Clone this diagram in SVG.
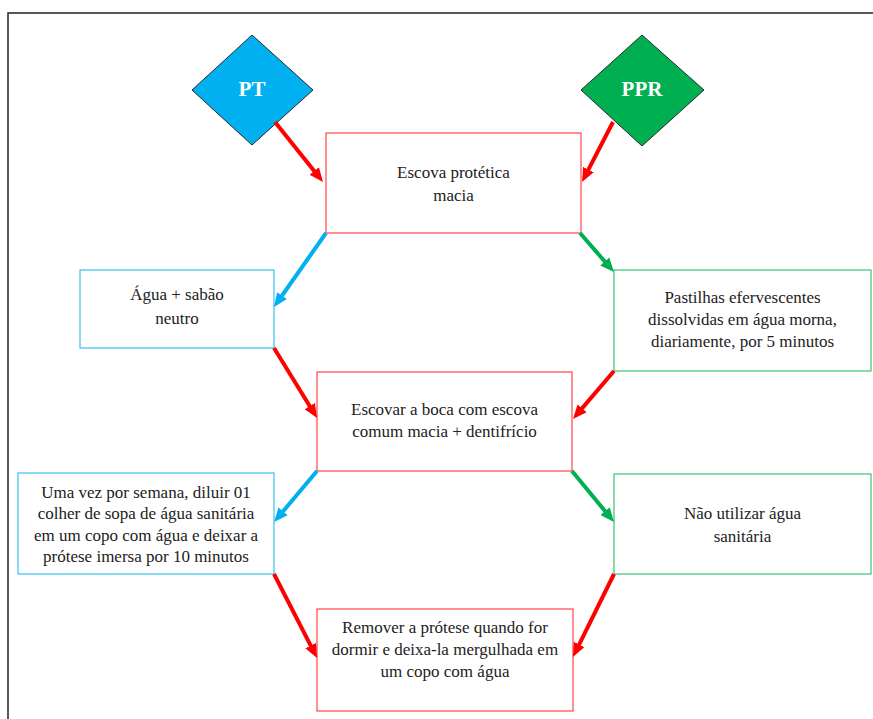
<svg xmlns="http://www.w3.org/2000/svg" width="873" height="719" viewBox="0 0 873 719">
<style>
.t{font-family:"Liberation Serif","Times New Roman",serif;font-size:17px;fill:#222;text-anchor:middle}
.d{font-family:"Liberation Serif","Times New Roman",serif;font-size:21px;font-weight:bold;fill:#fff;text-anchor:middle}
.dia{stroke:#2a2a2a;stroke-width:1}
.br{fill:#fff;stroke:#ff4545;stroke-width:1.2}
.bb{fill:#fff;stroke:#38c0f2;stroke-width:1.2}
.bg{fill:#fff;stroke:#3cc275;stroke-width:1.2}
.ar{fill:none;stroke-width:4}
.r{stroke:#ff0000;marker-end:url(#mr)}
.b{stroke:#00b0f0;marker-end:url(#mb)}
.g{stroke:#00b050;marker-end:url(#mg)}
</style>
<defs>
<marker id="mr" viewBox="0 0 14 14" markerWidth="14" markerHeight="14" markerUnits="userSpaceOnUse" refX="6" refY="7" orient="auto"><path d="M0,1 L14,7 L0,13 z" fill="#ff0000"/></marker>
<marker id="mb" viewBox="0 0 14 14" markerWidth="14" markerHeight="14" markerUnits="userSpaceOnUse" refX="6" refY="7" orient="auto"><path d="M0,1 L14,7 L0,13 z" fill="#00b0f0"/></marker>
<marker id="mg" viewBox="0 0 14 14" markerWidth="14" markerHeight="14" markerUnits="userSpaceOnUse" refX="6" refY="7" orient="auto"><path d="M0,1 L14,7 L0,13 z" fill="#00b050"/></marker>
</defs>
<rect width="873" height="719" fill="#fff"/>
<rect x="8" y="13" width="900" height="760" fill="none" stroke="#222" stroke-width="1.5"/>

<g id="pt"><polygon class="dia" points="252,35 313,90 252,145 192,90" fill="#00b0f0"/><text class="d" x="252" y="96">PT</text></g>
<g id="ppr"><polygon class="dia" points="642,35 704,90 642,146 581,90" fill="#00b050"/><text class="d" x="642" y="96">PPR</text></g>

<g id="escova"><rect class="br" x="326" y="133" width="255" height="100"/><text class="t" x="453.5" y="178">Escova protética</text><text class="t" x="453.5" y="201">macia</text></g>
<g id="agua"><rect class="bb" x="80" y="270" width="194" height="78"/><text class="t" x="177" y="300">Água + sabão</text><text class="t" x="177" y="324">neutro</text></g>
<g id="pastilhas"><rect class="bg" x="614" y="270" width="257" height="101"/><text class="t" x="742.5" y="303">Pastilhas efervescentes</text><text class="t" x="742.5" y="325">dissolvidas em água morna,</text><text class="t" x="742.5" y="347">diariamente, por 5 minutos</text></g>
<g id="escovar"><rect class="br" x="317" y="372" width="255" height="99"/><text class="t" x="444.5" y="415">Escovar a boca com escova</text><text class="t" x="444.5" y="437">comum macia + dentifrício</text></g>
<g id="umavez"><rect class="bb" x="18" y="473" width="256" height="101"/><text class="t" x="146" y="498">Uma vez por semana, diluir 01</text><text class="t" x="146" y="519">colher de sopa de água sanitária</text><text class="t" x="146" y="541">em um copo com água e deixar a</text><text class="t" x="146" y="562">prótese imersa por 10 minutos</text></g>
<g id="nao"><rect class="bg" x="614" y="474" width="257" height="100"/><text class="t" x="742.5" y="519">Não utilizar água</text><text class="t" x="742.5" y="542">sanitária</text></g>
<g id="remover"><rect class="br" x="317" y="609" width="256" height="102"/><text class="t" x="445" y="633">Remover a prótese quando for</text><text class="t" x="445" y="655">dormir e deixa-la mergulhada em</text><text class="t" x="445" y="677">um copo com água</text></g>

<g id="connectors">
<path class="ar r" d="M275,122 L318,175.8"/>
<path class="ar r" d="M613,122 L585.7,174.9"/>
<path class="ar b" d="M326,233 L278.6,300.5"/>
<path class="ar g" d="M580,233 L608.7,266"/>
<path class="ar r" d="M274,348 L312.9,411.2"/>
<path class="ar r" d="M614,371 L578.2,412.9"/>
<path class="ar b" d="M317,471 L279.2,515.9"/>
<path class="ar g" d="M572,471 L608.9,515.8"/>
<path class="ar r" d="M274,574 L313.4,650.9"/>
<path class="ar r" d="M614,574 L576.5,649.8"/>
</g>
</svg>
